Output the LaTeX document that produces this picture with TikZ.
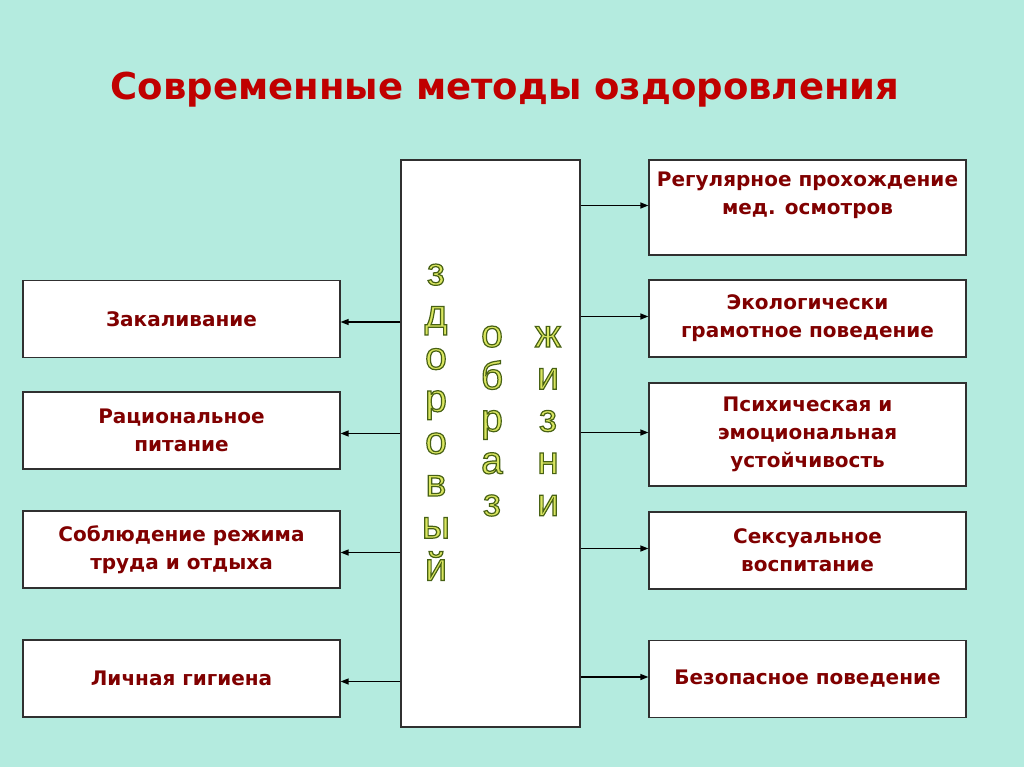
\documentclass[tikz,border=0pt]{standalone}
\usepackage{fontspec}
\setmainfont{DejaVu Sans}
\newfontfamily\letterfont{Liberation Sans}
\usetikzlibrary{arrows.meta}
\definecolor{mint}{HTML}{B4EBDF}
\definecolor{titlered}{HTML}{C00000}
\definecolor{maroon}{HTML}{800000}
\definecolor{frame}{HTML}{303030}
\definecolor{lime}{HTML}{DAE660}
% outlined letters (fill + dark green stroke)
\newcommand\outl[1]{\special{pdf:literal direct 2 Tr 1.2 w 0.28 0.38 0.08 RG}#1\special{pdf:literal direct 0 Tr}}

\begin{document}
\begin{tikzpicture}[x=1pt,y=-1pt,>={Triangle[length=8pt,width=6pt]},line join=miter,
  box/.style={draw=frame,line width=1.2pt,fill=white,minimum width=317pt,minimum height=77pt,
    inner sep=0pt,align=center,text=maroon,font=\bfseries\fontsize{20}{28}\selectfont},
  arr/.style={->,line width=1.3pt},
  letter/.style={anchor=base,inner sep=0pt,text=lime,font=\letterfont\fontsize{39}{40}\selectfont}]
  \fill[mint] (0,0) rectangle (1024,767);
  \useasboundingbox (0,0) rectangle (1024,767);

  \node[anchor=base,text=titlered,font=\bfseries\fontsize{37}{40}\selectfont] (title) at (505,100)
    {Современные методы оздоровления};

  % central column
  \node[draw=frame,line width=1.2pt,fill=white,minimum width=179pt,minimum height=567pt,inner sep=0pt] (c) at (490.5,443.5) {};

  % left side
  \node[box] (l1) at (181.5,319) {Закаливание};
  \node[box] (l2) at (181.5,430.5) {Рациональное\\питание};
  \node[box] (l3) at (181.5,549.5) {Соблюдение режима\\труда и отдыха};
  \node[box] (l4) at (181.5,678.5) {Личная гигиена};

  % right side
  \node[box,minimum height=95pt] (r1) at (807.5,207.5) {};
  \node[text=maroon,align=center,inner sep=0pt,font=\bfseries\fontsize{20}{28}\selectfont] (r1text) at ([yshift=12pt]r1.center)
    {Регулярное прохождение\\мед. осмотров};
  \node[box] (r2) at (807.5,318.5) {Экологически\\грамотное поведение};
  \node[box,minimum height=103pt] (r3) at (807.5,434.5) {Психическая и\\эмоциональная\\устойчивость};
  \node[box] (r4) at (807.5,550.5) {Сексуальное\\воспитание};
  \node[box] (r5) at (807.5,679) {Безопасное поведение};

  \foreach \b in {l1,l2,l3,l4}
    \draw[arr] ([yshift=-3pt]c.west |- \b.east) -- ([yshift=-3pt]\b.east);
  \foreach \b in {r1,r2,r3,r4,r5}
    \draw[arr] ([yshift=2pt]c.east |- \b.west) -- ([yshift=2pt]\b.west);

  % vertical words
  \foreach \ch [count=\i] in {з,д,о,р,о,в,ы,й}
    \node[letter] (zd\i) at (436,{285+42.2*(\i-1)}) {\outl{\ch}};
  \foreach \ch [count=\i] in {о,б,р,а,з}
    \node[letter] (ob\i) at (492,{347+42.2*(\i-1)}) {\outl{\ch}};
  \foreach \ch [count=\i] in {ж,и,з,н,и}
    \node[letter] (zh\i) at (548,{347+42.2*(\i-1)}) {\outl{\ch}};
\end{tikzpicture}
\end{document}
